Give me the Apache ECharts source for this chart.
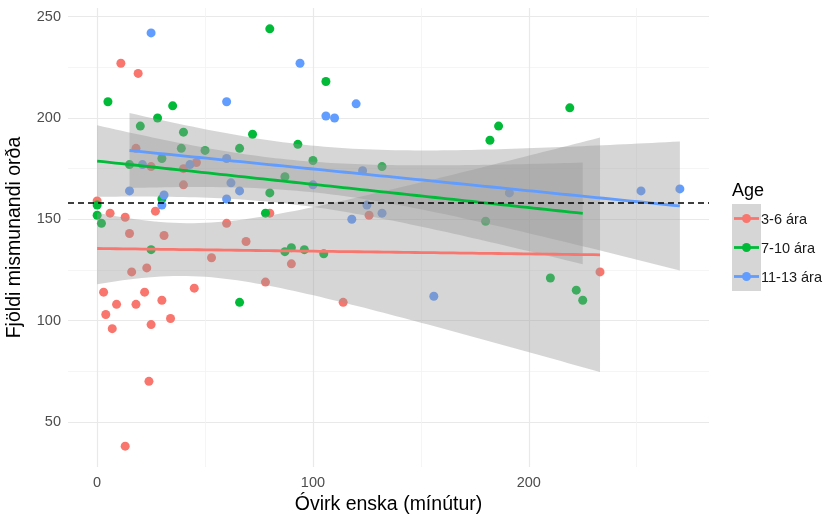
<!DOCTYPE html>
<html>
<head>
<meta charset="utf-8">
<script src="https://cdn.jsdelivr.net/npm/echarts@6/dist/echarts.min.js"></script>
<style>
  html, body { margin: 0; padding: 0; background: #fff; }
  #chart { width: 829px; height: 514px; }
</style>
</head>
<body>
<div id="chart"></div>
<script>
// Age groups and their colours
const groups = ['3-6 ára', '7-10 ára', '11-13 ára'];
const groupColors = ['#F8766D', '#00BA38', '#619CFF'];

// Passive English exposure (minutes) and number of distinct words, per age group
const minutes36 = [11, 19, 18, 25, 40, 46, 40, 0, 6, 13, 27, 15, 31, 80, 60, 69, 16, 23, 53, 78, 3, 22, 45, 9, 18, 30, 4, 7, 25, 34, 24, 13, 126, 90, 114, 233];
const words36   = [227, 222, 185, 176, 175, 178, 167, 159, 153, 151, 154, 143, 142, 153, 148, 139, 124, 126, 131, 119, 114, 114, 116, 108, 108, 110, 103, 96, 98, 101, 70, 38, 152, 128, 109, 124];

const minutes710 = [80, 5, 35, 28, 20, 72, 40, 39, 50, 66, 30, 15, 30, 0, 0, 2, 80, 78, 25, 66, 106, 93, 100, 87, 132, 180, 90, 96, 105, 87, 219, 186, 182, 210, 222, 225];
const words710   = [244, 208, 206, 200, 196, 192, 193, 185, 184, 185, 180, 177, 160, 157, 152, 148, 163, 153, 135, 109, 218, 187, 179, 171, 176, 149, 136, 135, 133, 134, 205, 196, 189, 121, 115, 110];

const minutes1113 = [25, 60, 60, 21, 43, 62, 66, 15, 31, 30, 60, 94, 106, 110, 120, 100, 123, 125, 132, 118, 156, 191, 252, 270];
const words1113   = [242, 208, 180, 177, 177, 168, 164, 164, 162, 157, 160, 227, 201, 200, 207, 167, 174, 157, 153, 150, 112, 163, 164, 165];

// Horizontal dashed reference level
const referenceLevel = 158.4;

// Tick labels
const xTickLabels = [0, 100, 200];
const xMinorTicks = [50, 150, 250];
const yTickLabels = [50, 100, 150, 200, 250];
const yMinorTicks = [75, 125, 175, 225];

const groupX = [minutes36, minutes710, minutes1113];
const groupY = [words36, words710, words1113];

// Two-sided 97.5% Student t quantile (Cornish-Fisher expansion)
function tQuantile(df) {
  const z = 1.959964;
  const z3 = z * z * z, z5 = z3 * z * z, z7 = z5 * z * z;
  return z + (z3 + z) / (4 * df) + (5 * z5 + 16 * z3 + 3 * z) / (96 * df * df)
    + (3 * z7 + 19 * z5 + 17 * z3 - 15 * z) / (384 * df * df * df);
}

// Ordinary least squares fit with a 95% confidence band over the observed x range
function linearFit(xs, ys, steps) {
  const n = xs.length;
  const mx = xs.reduce((a, b) => a + b, 0) / n;
  const my = ys.reduce((a, b) => a + b, 0) / n;
  let sxx = 0, sxy = 0;
  for (let i = 0; i < n; i++) {
    sxx += (xs[i] - mx) * (xs[i] - mx);
    sxy += (xs[i] - mx) * (ys[i] - my);
  }
  const slope = sxy / sxx;
  const icpt = my - slope * mx;
  let rss = 0;
  for (let i = 0; i < n; i++) {
    const r = ys[i] - icpt - slope * xs[i];
    rss += r * r;
  }
  const s = Math.sqrt(rss / (n - 2));
  const t = tQuantile(n - 2);
  const lo = Math.min(...xs), hi = Math.max(...xs);
  const line = [], band = [];
  for (let k = 0; k < steps; k++) {
    const x = lo + (hi - lo) * k / (steps - 1);
    const f = icpt + slope * x;
    const se = s * Math.sqrt(1 / n + (x - mx) * (x - mx) / sxx);
    line.push([x, f]);
    band.push([x, f - t * se, f + t * se]);
  }
  return { line, band };
}

const fits = groups.map((g, i) => linearFit(groupX[i], groupY[i], 80));

const FONT = '"Liberation Sans", Arial, sans-serif';
const chart = echarts.init(document.getElementById('chart'), null, { renderer: 'canvas' });

const series = [];

groups.forEach((g, i) => {
  series.push({
    name: g,
    type: 'scatter',
    xAxisIndex: 0, yAxisIndex: 0,
    data: groupX[i].map((x, k) => [x, groupY[i][k]]),
    symbolSize: 9,
    itemStyle: { color: groupColors[i], opacity: 1 },
    z: 2,
    silent: true
  });
});

groups.forEach((g, i) => {
  series.push({
    name: g + ' band',
    type: 'custom',
    xAxisIndex: 0, yAxisIndex: 0,
    data: fits[i].band,
    encode: { x: 0, y: [1, 2] },
    z: 3,
    silent: true,
    renderItem: function (params, api) {
      if (params.dataIndex !== 0) return null;
      const b = fits[i].band;
      const pts = [];
      for (let k = 0; k < b.length; k++) pts.push(api.coord([b[k][0], b[k][2]]));
      for (let k = b.length - 1; k >= 0; k--) pts.push(api.coord([b[k][0], b[k][1]]));
      return {
        type: 'polygon',
        shape: { points: pts },
        style: { fill: 'rgba(153,153,153,0.4)', stroke: null }
      };
    }
  });
});

groups.forEach((g, i) => {
  series.push({
    name: g + ' fit',
    type: 'line',
    xAxisIndex: 0, yAxisIndex: 0,
    data: fits[i].line,
    showSymbol: false,
    lineStyle: { color: groupColors[i], width: 2.8 },
    z: 4,
    silent: true
  });
});

series.push({
  type: 'line',
  xAxisIndex: 0, yAxisIndex: 0,
  data: [],
  z: 5,
  markLine: {
    silent: true,
    symbol: 'none',
    label: { show: false },
    lineStyle: { color: '#000', width: 1.6, type: [6, 4] },
    data: [{ yAxis: referenceLevel }]
  }
});

// Legend: gray key boxes with coloured line + point, like a smoothed-layer key
const legendGraphics = [
  { type: 'text', left: 732, top: 182, style: { text: 'Age', font: '18px ' + FONT, fill: '#000' } }
];
groups.forEach((g, i) => {
  const top = 204 + i * 29;
  legendGraphics.push({
    type: 'rect', shape: { x: 732, y: top, width: 29, height: 29 },
    style: { fill: '#d6d6d6' }
  });
  legendGraphics.push({
    type: 'line', shape: { x1: 734, y1: top + 14.5, x2: 759, y2: top + 14.5 },
    style: { stroke: groupColors[i], lineWidth: 2.8 }
  });
  legendGraphics.push({
    type: 'circle', shape: { cx: 746.5, cy: top + 14.5, r: 4.5 },
    style: { fill: groupColors[i] }
  });
  legendGraphics.push({
    type: 'text', x: 761, y: top + 15.5,
    style: { text: g, font: '14.5px ' + FONT, fill: '#1a1a1a', textVerticalAlign: 'middle' }
  });
});

const option = {
  backgroundColor: '#ffffff',
  animation: false,
  grid: { left: 68, right: 120, top: 8, bottom: 47, outerBoundsMode: 'none' },
  xAxis: [
    {
      type: 'value', min: -13.5, max: 283.5, position: 'bottom',
      axisLine: { show: false },
      axisTick: { show: false, customValues: xTickLabels },
      axisLabel: { customValues: xTickLabels, color: '#4d4d4d', fontSize: 14.5, fontFamily: FONT, margin: 8 },
      splitLine: { show: true, lineStyle: { color: '#e9e9e9', width: 1.2 } },
      name: 'Óvirk enska (mínútur)', nameLocation: 'middle', nameGap: 25,
      nameTextStyle: { color: '#000', fontSize: 19.5, fontFamily: FONT }
    },
    {
      type: 'value', min: -13.5, max: 283.5, position: 'top',
      axisLine: { show: false },
      axisTick: { show: false, customValues: xMinorTicks },
      axisLabel: { show: false, customValues: xMinorTicks },
      splitLine: { show: true, lineStyle: { color: '#f3f3f3', width: 0.8 } }
    }
  ],
  yAxis: [
    {
      type: 'value', min: 27.7, max: 254.3, position: 'left',
      axisLine: { show: false },
      axisTick: { show: false, customValues: yTickLabels },
      axisLabel: { customValues: yTickLabels, color: '#4d4d4d', fontSize: 14.5, fontFamily: FONT, margin: 7 },
      splitLine: { show: true, lineStyle: { color: '#e9e9e9', width: 1.2 } },
      name: 'Fjöldi mismunandi orða', nameLocation: 'middle', nameGap: 43, nameRotate: 90,
      nameTextStyle: { color: '#000', fontSize: 19.5, fontFamily: FONT }
    },
    {
      type: 'value', min: 27.7, max: 254.3, position: 'right',
      axisLine: { show: false },
      axisTick: { show: false, customValues: yMinorTicks },
      axisLabel: { show: false, customValues: yMinorTicks },
      splitLine: { show: true, lineStyle: { color: '#f3f3f3', width: 0.8 } }
    }
  ],
  series: series,
  graphic: legendGraphics
};

chart.setOption(option);
</script>
</body>
</html>
